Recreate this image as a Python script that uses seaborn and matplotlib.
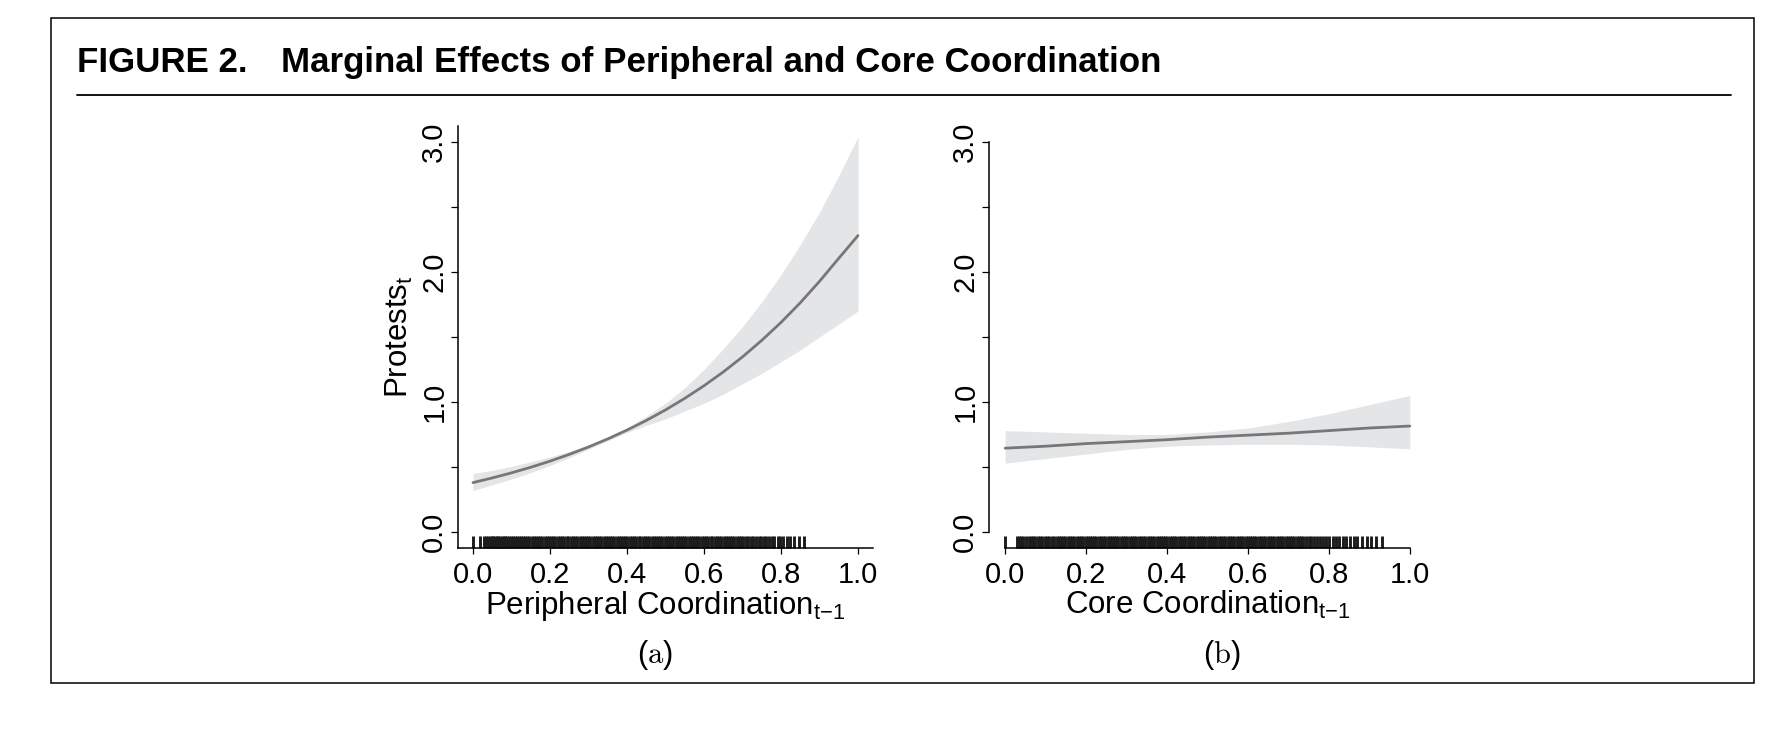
import matplotlib
matplotlib.use("Agg")
import matplotlib.pyplot as plt
import seaborn as sns
import pandas as pd
from matplotlib.patches import Rectangle
from matplotlib.lines import Line2D

# --- values ---
# panel (a): peripheral coordination
peri_x = [0.00, 0.05, 0.10, 0.15, 0.20, 0.25, 0.30, 0.35, 0.40, 0.45, 0.50,
          0.55, 0.60, 0.65, 0.70, 0.75, 0.80, 0.85, 0.90, 0.95, 1.00]
peri_fit = [0.380, 0.416, 0.455, 0.498, 0.545, 0.597, 0.654, 0.716, 0.784, 0.858, 0.939,
            1.028, 1.125, 1.231, 1.347, 1.474, 1.612, 1.763, 1.928, 2.105, 2.280]
peri_hi = [0.450, 0.475, 0.505, 0.540, 0.578, 0.620, 0.670, 0.728, 0.800, 0.890, 0.990,
           1.110, 1.250, 1.410, 1.580, 1.770, 1.980, 2.210, 2.460, 2.740, 3.040]
peri_lo = [0.320, 0.362, 0.408, 0.457, 0.512, 0.572, 0.636, 0.702, 0.765, 0.820, 0.870,
           0.930, 0.990, 1.060, 1.140, 1.220, 1.310, 1.400, 1.500, 1.600, 1.700]

# panel (b): core coordination
core_x = [0.0, 0.1, 0.2, 0.3, 0.4, 0.5, 0.6, 0.7, 0.8, 0.9, 1.0]
core_fit = [0.645, 0.660, 0.680, 0.695, 0.710, 0.730, 0.745, 0.760, 0.780, 0.800, 0.815]
core_hi = [0.780, 0.770, 0.760, 0.750, 0.750, 0.770, 0.800, 0.850, 0.910, 0.980, 1.050]
core_lo = [0.530, 0.565, 0.600, 0.635, 0.660, 0.670, 0.675, 0.675, 0.670, 0.655, 0.640]

# observed values shown as rug marks
peri_rug = [
    0.000, 0.017, 0.029, 0.034, 0.040, 0.044, 0.049, 0.053, 0.058, 0.062,
    0.066, 0.071, 0.075, 0.080, 0.084, 0.089, 0.093, 0.098, 0.103, 0.108,
    0.113, 0.119, 0.124, 0.130, 0.135, 0.141, 0.146, 0.152, 0.158, 0.163,
    0.169, 0.175, 0.180, 0.186, 0.192, 0.197, 0.203, 0.209, 0.214, 0.220,
    0.226, 0.231, 0.237, 0.243, 0.248, 0.254, 0.260, 0.265, 0.271, 0.277,
    0.282, 0.288, 0.294, 0.299, 0.305, 0.311, 0.316, 0.322, 0.328, 0.333,
    0.339, 0.345, 0.350, 0.356, 0.362, 0.367, 0.373, 0.379, 0.384, 0.390,
    0.396, 0.401, 0.407, 0.413, 0.418, 0.424, 0.430, 0.435, 0.441, 0.447,
    0.452, 0.458, 0.464, 0.469, 0.475, 0.481, 0.486, 0.492, 0.498, 0.503,
    0.509, 0.515, 0.520, 0.526, 0.532, 0.537, 0.543, 0.549, 0.554, 0.560,
    0.566, 0.571, 0.577, 0.583, 0.588, 0.594, 0.600, 0.605, 0.611, 0.617,
    0.622, 0.628, 0.634, 0.639, 0.645, 0.651, 0.656, 0.662, 0.668, 0.673,
    0.679, 0.685, 0.690, 0.696, 0.702, 0.708, 0.714, 0.721, 0.727, 0.734,
    0.742, 0.749, 0.755, 0.762, 0.770, 0.777, 0.783, 0.791, 0.798, 0.806,
    0.815, 0.823, 0.834, 0.846, 0.861,
]
core_rug = [
    0.000, 0.029, 0.034, 0.040, 0.045, 0.051, 0.058, 0.063, 0.069, 0.074,
    0.081, 0.086, 0.092, 0.098, 0.104, 0.109, 0.115, 0.121, 0.127, 0.132,
    0.138, 0.143, 0.149, 0.155, 0.160, 0.166, 0.171, 0.177, 0.182, 0.188,
    0.193, 0.199, 0.204, 0.209, 0.215, 0.220, 0.225, 0.231, 0.236, 0.242,
    0.247, 0.253, 0.258, 0.264, 0.269, 0.275, 0.280, 0.286, 0.291, 0.297,
    0.302, 0.308, 0.313, 0.319, 0.324, 0.330, 0.335, 0.341, 0.346, 0.352,
    0.357, 0.363, 0.368, 0.374, 0.379, 0.385, 0.390, 0.396, 0.401, 0.407,
    0.412, 0.418, 0.423, 0.429, 0.434, 0.440, 0.445, 0.451, 0.456, 0.462,
    0.467, 0.473, 0.478, 0.484, 0.489, 0.495, 0.500, 0.506, 0.511, 0.517,
    0.522, 0.528, 0.533, 0.539, 0.544, 0.550, 0.555, 0.561, 0.566, 0.572,
    0.577, 0.583, 0.588, 0.594, 0.599, 0.605, 0.610, 0.616, 0.621, 0.627,
    0.632, 0.638, 0.643, 0.649, 0.654, 0.660, 0.665, 0.671, 0.676, 0.682,
    0.687, 0.693, 0.698, 0.704, 0.709, 0.715, 0.720, 0.726, 0.731, 0.736,
    0.743, 0.750, 0.757, 0.764, 0.771, 0.779, 0.786, 0.794, 0.801, 0.809,
    0.817, 0.826, 0.834, 0.843, 0.852, 0.861, 0.870, 0.881, 0.893, 0.904,
    0.916, 0.931,
]

x_ticks = [0.0, 0.2, 0.4, 0.6, 0.8, 1.0]
x_tick_labels = ["0.0", "0.2", "0.4", "0.6", "0.8", "1.0"]
y_ticks = [0.0, 0.5, 1.0, 1.5, 2.0, 2.5, 3.0]
y_tick_labels = ["0.0", "", "1.0", "", "2.0", "", "3.0"]

peri_df = pd.DataFrame({"x": peri_x, "fit": peri_fit, "lo": peri_lo, "hi": peri_hi})
core_df = pd.DataFrame({"x": core_x, "fit": core_fit, "lo": core_lo, "hi": core_hi})

sns.set_theme(style="ticks")
plt.rcParams["font.family"] = ["Liberation Sans", "DejaVu Sans"]
plt.rcParams["mathtext.fontset"] = "cm"
plt.rcParams["mathtext.default"] = "regular"
for key in ["text.color", "axes.labelcolor", "xtick.color", "ytick.color", "axes.edgecolor"]:
    plt.rcParams[key] = "black"

W, H = 1792, 756
fig = plt.figure(figsize=(W / 100, H / 100), dpi=100)

ax_a = fig.add_axes([458 / W, 1 - 548 / H, 415 / W, 422 / H])
ax_b = fig.add_axes([989 / W, 1 - 548 / H, 437 / W, 422 / H])

band_col = "#e4e5e7"
line_col = "#777777"
rug_col = "#1c1c1c"
fs = 21
label_fs = 22.5

for ax, df, rug in [(ax_a, peri_df, peri_rug), (ax_b, core_df, core_rug)]:
    ax.fill_between(df["x"], df["lo"], df["hi"], color=band_col, lw=0, zorder=1)
    sns.lineplot(data=df, x="x", y="fit", color=line_col, linewidth=2.0, ax=ax, zorder=2)
    sns.rugplot(x=rug, height=0.029, color=rug_col, linewidth=2.1, ax=ax, clip_on=False)

    ax.set_ylim(-0.123, 3.123)
    ax.set_xticks(x_ticks)
    ax.set_xticklabels(x_tick_labels, fontsize=fs)
    ax.set_yticks(y_ticks)
    ax.set_yticklabels(y_tick_labels, fontsize=fs, rotation=90, va="center")
    ax.tick_params(axis="x", direction="out", length=4.5, width=0.9, pad=5)
    ax.tick_params(axis="y", direction="out", length=5, width=0.9, pad=2)
    for side in ["top", "right"]:
        ax.spines[side].set_visible(False)
    for side in ["left", "bottom"]:
        ax.spines[side].set_linewidth(1.1)
    ax.grid(False)

ax_a.set_xlim(-0.039, 1.039)
ax_b.set_xlim(-0.04, 1.04)
ax_b.spines["left"].set_bounds(0, 3)
ax_b.spines["bottom"].set_bounds(0, 1)

ax_a.set_xlabel(r"Peripheral Coordination$_{\mathregular{t{-}1}}$", fontsize=label_fs, labelpad=0)
ax_b.set_xlabel(r"Core Coordination$_{\mathregular{t{-}1}}$", fontsize=label_fs, labelpad=0)
ax_a.set_ylabel(r"Protests$_{\mathregular{t}}$", fontsize=label_fs, labelpad=4)
ax_b.set_ylabel("")

# panel letters
fig.text(655 / W, 1 - 655 / H, r"$(\mathrm{a})$", fontsize=22, ha="center", va="center")
fig.text(1222 / W, 1 - 655 / H, r"$(\mathrm{b})$", fontsize=22, ha="center", va="center")

# title, rule and frame
fig.text(77 / W, 1 - 72 / H, "FIGURE 2.", fontsize=25.1, fontweight="bold", va="baseline")
fig.text(281 / W, 1 - 72 / H, "Marginal Effects of Peripheral and Core Coordination",
         fontsize=25.1, fontweight="bold", va="baseline")
fig.add_artist(Line2D([77 / W, 1731 / W], [1 - 95 / H, 1 - 95 / H], color="black", lw=1.3))
fig.add_artist(Rectangle((51 / W, 1 - 683 / H), (1754 - 51) / W, (683 - 18) / H,
                         fill=False, edgecolor="black", lw=1.1, transform=fig.transFigure))

fig.savefig("out.png", dpi=100)
